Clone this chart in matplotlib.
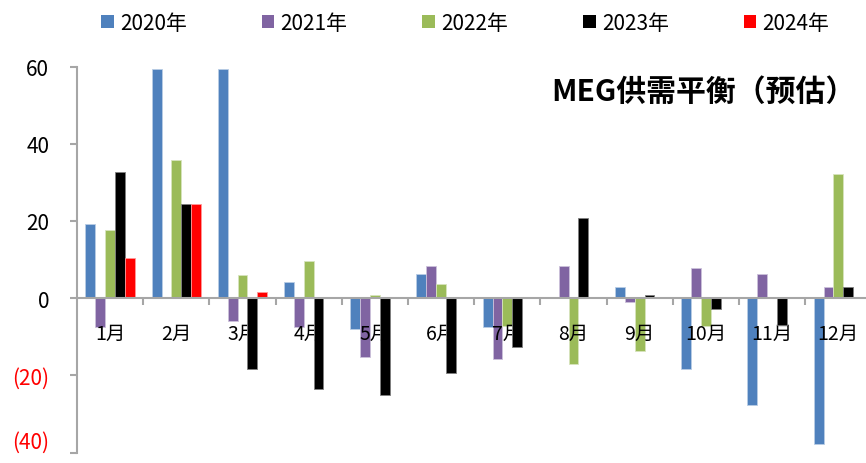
import matplotlib
matplotlib.use("Agg")
import matplotlib.pyplot as plt
import numpy as np
from matplotlib.patches import Patch
from matplotlib.ticker import FixedLocator

plt.rcParams['font.family'] = ['Noto Sans CJK SC', 'DejaVu Sans']

months = ['1月', '2月', '3月', '4月', '5月', '6月', '7月', '8月', '9月', '10月', '11月', '12月']
series_names = ['2020年', '2021年', '2022年', '2023年', '2024年']
v2020 = [19.2, 59.3, 59.3, 4.3, -8.0, 6.3, -7.5, 0.1, 2.8, -18.3, -27.6, -37.9]
v2021 = [-7.5, 0.0, -6.0, -7.5, -15.3, 8.4, -15.8, 8.4, -0.9, 7.9, 6.3, 2.8]
v2022 = [17.7, 35.7, 5.9, 9.5, 0.7, 3.7, -7.3, -17.2, -13.7, -7.3, 0.0, 32.1]
v2023 = [32.6, 24.4, -18.4, -23.5, -25.0, -19.3, -12.7, 20.8, 0.7, -2.8, -6.9, 2.8]
v2024 = [10.5, 24.4, 1.7, np.nan, np.nan, np.nan, np.nan, np.nan, np.nan, np.nan, np.nan, np.nan]
colors = ['#4F81BD', '#8064A2', '#9BBB59', '#000000', '#FF0000']
edge_colors = ['#B9CDE5', '#CCC1DA', '#D7E4BD', '#7F7F7F', '#FF9999']
y_ticks = [60, 40, 20, 0, -20, -40]
title = 'MEG供需平衡（预估）'

W, H = 866, 464
fig = plt.figure(figsize=(W / 100, H / 100), dpi=100)
ax_left = 77 / W
ax_w = 12 * 66.2 / W
y_top = 67.5
y_bot = 453.5
ax = fig.add_axes([ax_left, 1 - y_bot / H, ax_w, (y_bot - y_top) / H])

data = [v2020, v2021, v2022, v2023, v2024]
x = np.arange(len(months)) + 0.5
bw = 0.149
for j, vals in enumerate(data):
    ax.bar(x + (j - 2) * bw, vals, width=bw, color=colors[j],
           edgecolor=edge_colors[j], linewidth=0.6, zorder=2 if j < 3 else 4)

ax.set_xlim(0, 12)
ax.set_ylim(-40, 60)

for s in ['top', 'right']:
    ax.spines[s].set_visible(False)
ax.spines['bottom'].set_position(('data', 0))
ax.spines['bottom'].set_color('#A6A6A6')
ax.spines['bottom'].set_linewidth(1.5)
ax.spines['bottom'].set_zorder(5)
ax.spines['left'].set_color('#A6A6A6')
ax.spines['left'].set_linewidth(1.5)
ax.spines['left'].set_zorder(5)

# x ticks
ax.set_xticks(x)
ax.set_xticklabels(months, fontsize=14)
ax.tick_params(axis='x', which='major', length=0, pad=18)
ax.xaxis.set_minor_locator(FixedLocator(np.arange(1, 12)))
ax.tick_params(axis='x', which='minor', length=5, width=1.5, color='#A6A6A6', direction='out')
ax.xaxis.set_zorder(3)

# y ticks
ax.yaxis.set_major_locator(FixedLocator(y_ticks))
ax.set_yticklabels([str(v) if v >= 0 else '(%d)' % abs(v) for v in y_ticks], fontsize=15)
ax.tick_params(axis='y', length=5, width=1.5, color='#A6A6A6', pad=15)
for lbl, v in zip(ax.get_yticklabels(), y_ticks):
    lbl.set_color('red' if v < 0 else 'black')
    lbl.set_verticalalignment('bottom' if v == -40 else 'center_baseline')

# title
fig.text(855 / W, 1 - 92 / H, title, fontsize=21.5, fontweight='bold', ha='right', va='center')

# legend
handles = [Patch(facecolor=c, edgecolor='none') for c in colors]
fig.legend(handles, series_names, loc='center left', bbox_to_anchor=(101 / W, 1 - 24 / H),
           ncol=5, frameon=False, fontsize=15, handlelength=0.6, handleheight=0.6,
           handletextpad=0.3, columnspacing=3.6, borderpad=0, borderaxespad=0)

fig.savefig('out.png', dpi=100)
